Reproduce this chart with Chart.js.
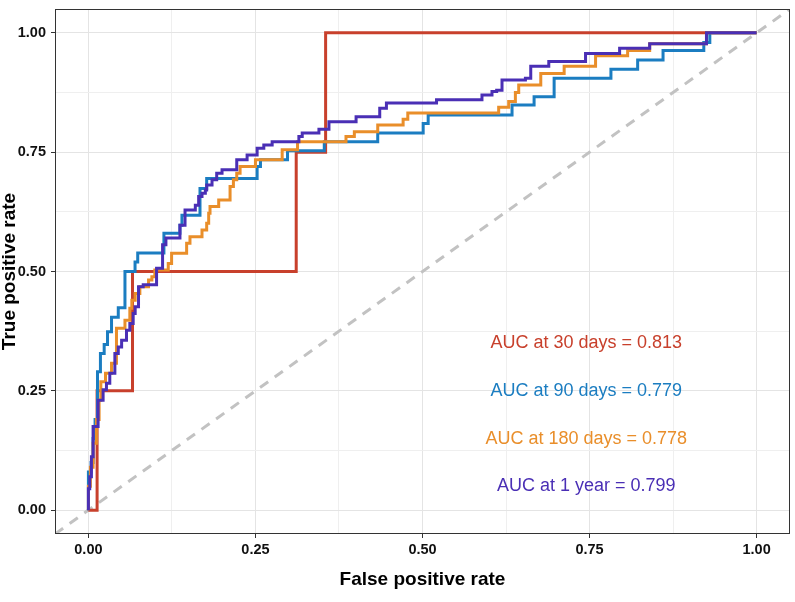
<!DOCTYPE html>
<html><head><meta charset="utf-8">
<script src="https://cdn.jsdelivr.net/npm/chart.js@4.4.1/dist/chart.umd.min.js"></script>
<style>html,body{margin:0;padding:0;background:#fff;}canvas{display:block;}</style>
</head><body>
<canvas id="c" width="795" height="602"></canvas>
<script>
// ROC curves: each point = (FPR where TPR rises, TPR after the rise); drawn as step-before
const red_fpr = [0, 0.013, 0.066, 0.311, 0.355, 1];
const red_tpr = [0, 0.25, 0.50, 0.75, 1.00, 1];

const blue_fpr = [0, 0, 0.004, 0.007, 0.010, 0.0136, 0.018, 0.0236, 0.0286, 0.0346, 0.0447, 0.0547, 0.0698, 0.0738, 0.113, 0.137, 0.140, 0.167, 0.177, 0.2525, 0.2575, 0.298, 0.353, 0.433, 0.501, 0.5085, 0.634, 0.667, 0.697, 0.782, 0.822, 0.86, 0.921, 0.93, 1];
const blue_tpr = [0, 0.08, 0.10, 0.15, 0.19, 0.29, 0.328, 0.347, 0.374, 0.404, 0.424, 0.50, 0.52, 0.539, 0.58, 0.597, 0.618, 0.674, 0.695, 0.72, 0.734, 0.753, 0.772, 0.79, 0.81, 0.828, 0.849, 0.866, 0.905, 0.924, 0.943, 0.963, 0.98, 1.0, 1];

const orange_fpr = [0, 0, 0.003, 0.007, 0.012, 0.016, 0.0186, 0.0256, 0.0346, 0.042, 0.0547, 0.062, 0.065, 0.07, 0.077, 0.09, 0.095, 0.0994, 0.1195, 0.1245, 0.147, 0.152, 0.17, 0.177, 0.18, 0.182, 0.195, 0.212, 0.217, 0.222, 0.227, 0.25, 0.29, 0.313, 0.3855, 0.398, 0.433, 0.471, 0.478, 0.614, 0.629, 0.639, 0.644, 0.677, 0.712, 0.759, 0.807, 0.84, 0.925, 1];
const orange_tpr = [0, 0.05, 0.09, 0.14, 0.19, 0.23, 0.269, 0.287, 0.308, 0.381, 0.398, 0.423, 0.44, 0.454, 0.468, 0.482, 0.489, 0.503, 0.517, 0.538, 0.559, 0.573, 0.587, 0.601, 0.622, 0.636, 0.65, 0.678, 0.692, 0.706, 0.72, 0.734, 0.755, 0.772, 0.783, 0.793, 0.807, 0.819, 0.832, 0.844, 0.856, 0.875, 0.891, 0.915, 0.93, 0.952, 0.963, 0.977, 1.0, 1];

const purple_fpr = [0, 0, 0.002, 0.0045, 0.007, 0.0145, 0.022, 0.027, 0.032, 0.0396, 0.0447, 0.0497, 0.057, 0.062, 0.067, 0.07, 0.075, 0.082, 0.102, 0.111, 0.116, 0.137, 0.1446, 0.16, 0.165, 0.17, 0.175, 0.177, 0.185, 0.192, 0.2, 0.222, 0.2375, 0.2525, 0.2625, 0.275, 0.315, 0.32, 0.345, 0.36, 0.4006, 0.436, 0.446, 0.521, 0.589, 0.604, 0.611, 0.619, 0.654, 0.662, 0.689, 0.744, 0.795, 0.84, 0.925, 1];
const purple_tpr = [0, 0.045, 0.07, 0.112, 0.175, 0.23, 0.252, 0.266, 0.287, 0.328, 0.342, 0.356, 0.377, 0.391, 0.412, 0.426, 0.468, 0.472, 0.507, 0.556, 0.57, 0.597, 0.629, 0.639, 0.657, 0.664, 0.671, 0.681, 0.692, 0.706, 0.713, 0.734, 0.744, 0.758, 0.765, 0.772, 0.783, 0.79, 0.798, 0.814, 0.8245, 0.842, 0.853, 0.86, 0.87, 0.877, 0.88, 0.901, 0.905, 0.93, 0.94, 0.957, 0.968, 0.977, 1.0, 1];

const diag_x = [-0.05, 1.05];
const diag_y = [-0.05, 1.05];

const tickValues = [0, 0.25, 0.5, 0.75, 1];
const tickLabels = ['0.00', '0.25', '0.50', '0.75', '1.00'];
const gridValues = [0, 0.125, 0.25, 0.375, 0.5, 0.625, 0.75, 0.875, 1];

const aucLabels = ['AUC at 30 days = 0.813', 'AUC at 90 days = 0.779', 'AUC at 180 days = 0.778', 'AUC at 1 year = 0.799'];
const aucX = [0.745, 0.745, 0.745, 0.745];
const aucY = [0.35, 0.25, 0.15, 0.05];

const C_RED = '#C8402C', C_BLUE = '#1B7DC1', C_ORANGE = '#E98E2A', C_PURPLE = '#4A2FB5';
const aucColors = [C_RED, C_BLUE, C_ORANGE, C_PURPLE];

const FONT = '"Liberation Sans", Arial, Helvetica, sans-serif';
Chart.defaults.font.family = FONT;

const pts = (xs, ys) => xs.map((v, i) => ({x: v, y: ys[i]}));
const isMajor = v => tickValues.some(t => Math.abs(t - v) < 1e-9);

const panelPlugin = {
  id: 'panel',
  afterDatasetsDraw(chart) {
    const {ctx, chartArea: a, scales: {x, y}} = chart;
    ctx.save();
    ctx.strokeStyle = '#333';
    ctx.lineWidth = 1;
    ctx.strokeRect(Math.round(a.left) + 0.5, Math.round(a.top) + 0.5, Math.round(a.right - a.left) - 1, Math.round(a.bottom - a.top) - 1);
    ctx.font = '18px ' + FONT;
    ctx.textAlign = 'center';
    ctx.textBaseline = 'middle';
    aucLabels.forEach((t, i) => {
      ctx.fillStyle = aucColors[i];
      ctx.fillText(t, x.getPixelForValue(aucX[i]), y.getPixelForValue(aucY[i]));
    });
    ctx.restore();
  }
};

function axis(titleText, isX) {
  return {
    type: 'linear',
    min: -0.05, max: 1.05,
    afterBuildTicks: s => { s.ticks = gridValues.map(v => ({value: v})); },
    afterFit: s => {
      if (isX) s.height = 68; else s.width = 55;
      s.paddingTop = 0; s.paddingBottom = 0; s.paddingLeft = 0; s.paddingRight = 0;
    },
    ticks: {
      autoSkip: false, maxRotation: 0, minRotation: 0,
      padding: isX ? 3 : 5,
      color: '#111',
      font: {size: 14.5, weight: 'bold'},
      callback: v => { const i = tickValues.findIndex(t => Math.abs(t - v) < 1e-9); return i >= 0 ? tickLabels[i] : ''; }
    },
    grid: {
      drawTicks: true, tickLength: 4,
      color: c => isMajor(c.tick.value) ? '#e4e4e4' : '#efefef',
      lineWidth: 1,
      tickColor: c => isMajor(c.tick.value) ? '#333' : 'rgba(0,0,0,0)',
      tickWidth: 1
    },
    border: {display: false},
    title: {
      display: true, text: titleText, color: '#000',
      font: {size: 19, weight: 'bold'},
      padding: isX ? {top: 0, bottom: 11} : {top: -1.5, bottom: 0}
    }
  };
}

const lineDs = (label, xs, ys, color) => ({
  label, data: pts(xs, ys), borderColor: color, backgroundColor: color,
  borderWidth: 3, pointRadius: 0, stepped: true, fill: false, tension: 0
});

new Chart(document.getElementById('c'), {
  type: 'line',
  data: {
    datasets: [
      lineDs('1 year', purple_fpr, purple_tpr, C_PURPLE),
      lineDs('180 days', orange_fpr, orange_tpr, C_ORANGE),
      lineDs('90 days', blue_fpr, blue_tpr, C_BLUE),
      lineDs('30 days', red_fpr, red_tpr, C_RED),
      {label: 'chance', data: pts(diag_x, diag_y), borderColor: '#c2c2c2', borderWidth: 3,
       borderDash: [10, 8], pointRadius: 0, fill: false, tension: 0}
    ]
  },
  options: {
    responsive: false, animation: false,
    layout: {padding: {top: 9, right: 5, left: 0, bottom: 0}},
    plugins: {legend: {display: false}, tooltip: {enabled: false}},
    scales: {x: axis('False positive rate', true), y: axis('True positive rate', false)}
  },
  plugins: [panelPlugin]
});
</script>
</body></html>
